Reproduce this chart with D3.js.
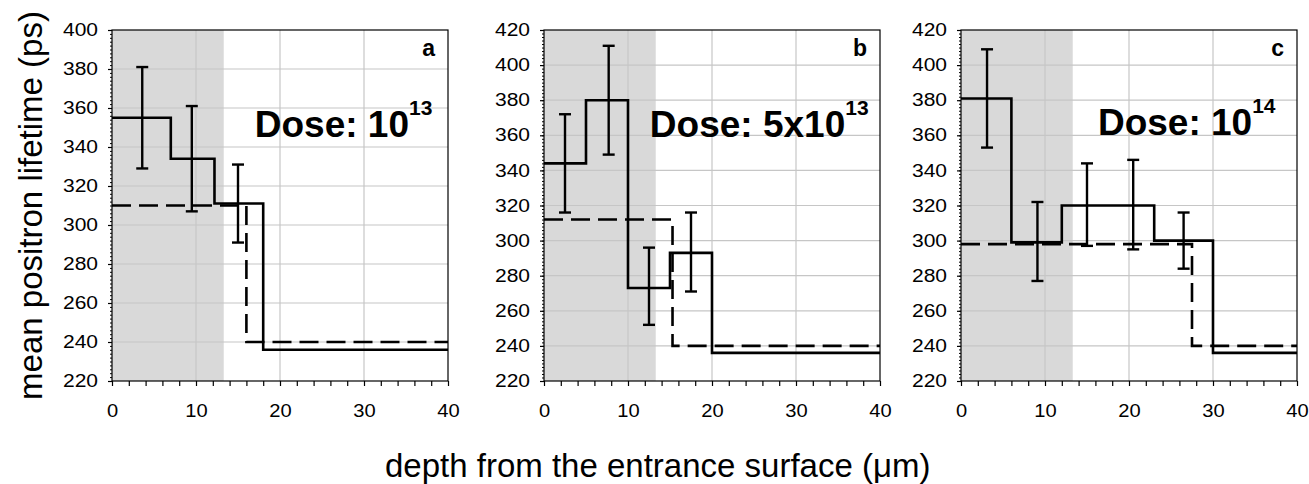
<!DOCTYPE html>
<html>
<head>
<meta charset="utf-8">
<script src="https://cdn.jsdelivr.net/npm/d3@7"></script>
<style>
  body { margin: 0; background: #fff; }
  text { font-family: "Liberation Sans", Arial, sans-serif; fill: #000; }
</style>
</head>
<body>
<div id="chart"></div>
<script>
// chart values
const panelLetters = ["a", "b", "c"];
const doseBase = ["10", "5x10", "10"];
const doseExp = ["13", "13", "14"];
const doseAt = [[17.0, 345], [12.6, 359], [16.3, 360]]; // [depth, lifetime] of label start
const yDomains = [[220, 400], [220, 420], [220, 420]];
const xTicks = [0, 10, 20, 30, 40];
const shadeEnd = 13.3; // shaded depth range (um)

// solid step profiles: layer edges and lifetimes
const solidEdges = [[0, 7, 12.2, 18, 40], [0, 5, 10, 15, 20, 40], [0, 6, 12, 23, 30, 40]];
const solidLevels = [[355, 334, 311, 236], [344, 380, 273, 293, 236], [381, 299, 320, 300, 236]];
// dashed step profiles
const dashEdges = [[0, 16, 40], [0, 15.3, 40], [0, 27.5, 40]];
const dashLevels = [[310, 240], [312, 240], [298, 240]];
// error bars
const errX = [[3.6, 9.5, 15], [2.5, 7.7, 12.5, 17.5], [3.1, 9.1, 15, 20.5, 26.5]];
const errLo = [[329, 307, 291], [316, 349, 252, 271], [353, 277, 297, 295, 284]];
const errHi = [[381, 361, 331], [372, 411, 296, 316], [409, 322, 344, 346, 316]];

const width = 1309, height = 484;
const panelLeft = [112, 544, 961];
const pw = 336, ph = 351, plotTop = 30;

const svg = d3.select("#chart").append("svg")
  .attr("width", width)
  .attr("height", height);

// stretch tick labels a little, like the original
function widen(sel, f) {
  sel.each(function() {
    const w = this.getComputedTextLength();
    if (w > 0) d3.select(this).attr("textLength", w * f).attr("lengthAdjust", "spacingAndGlyphs");
  });
}

panelLetters.forEach((letter, i) => {
  const g = svg.append("g").attr("transform", `translate(${panelLeft[i]},${plotTop})`);

  const x = d3.scaleLinear().domain([0, 40]).range([0, pw]);
  const y = d3.scaleLinear().domain(yDomains[i]).range([ph, 0]);
  const yMajor = d3.range(yDomains[i][0], yDomains[i][1] + 1, 20);

  // shaded region
  g.append("rect")
    .attr("x", x(0)).attr("y", 0)
    .attr("width", x(shadeEnd) - x(0)).attr("height", ph)
    .attr("fill", "#d9d9d9");

  // grid
  g.selectAll(".gx").data(xTicks.slice(1, -1)).enter().append("line")
    .attr("x1", d => x(d)).attr("x2", d => x(d))
    .attr("y1", 0).attr("y2", ph)
    .attr("stroke", "#c6c6c6").attr("stroke-width", 1.2);
  g.selectAll(".gy").data(yMajor.slice(1, -1)).enter().append("line")
    .attr("x1", 0).attr("x2", pw)
    .attr("y1", d => y(d)).attr("y2", d => y(d))
    .attr("stroke", "#c6c6c6").attr("stroke-width", 1.2);

  // axes
  const xAxis = g.append("g").attr("transform", `translate(0,${ph})`)
    .call(d3.axisBottom(x).tickValues(d3.range(0, 41, 2))
      .tickFormat(d => d % 10 === 0 ? d : "").tickSize(5).tickPadding(19));
  xAxis.select(".domain").remove();
  xAxis.selectAll("line").attr("stroke", "#000").attr("stroke-width", 1.2);
  xAxis.selectAll("text").attr("font-size", 17.5).attr("fill", "#000")
    .style("font-family", "Liberation Sans, Arial, sans-serif");
  widen(xAxis.selectAll("text"), 1.15);

  const yMinor = g.append("g")
    .call(d3.axisLeft(y).tickValues(d3.range(yDomains[i][0], yDomains[i][1] + 1, 2))
      .tickFormat("").tickSize(2));
  yMinor.select(".domain").remove();
  yMinor.selectAll("line").attr("stroke", "#000").attr("stroke-width", 1);

  const yAxis = g.append("g")
    .call(d3.axisLeft(y).tickValues(yMajor).tickSize(4).tickPadding(10));
  yAxis.select(".domain").remove();
  yAxis.selectAll("line").attr("stroke", "#000").attr("stroke-width", 1.2);
  yAxis.selectAll("text").attr("font-size", 17.5).attr("fill", "#000")
    .style("font-family", "Liberation Sans, Arial, sans-serif");
  widen(yAxis.selectAll("text"), 1.2);

  // frame
  g.append("rect")
    .attr("width", pw).attr("height", ph)
    .attr("fill", "none").attr("stroke", "#000").attr("stroke-width", 1.2);

  const step = d3.line().x(d => x(d[0])).y(d => y(d[1])).curve(d3.curveStepAfter);
  function stepPoints(edges, levels) {
    const pts = levels.map((v, k) => [edges[k], v]);
    pts.push([edges[edges.length - 1], levels[levels.length - 1]]);
    return pts;
  }

  // dashed profile
  g.append("path")
    .attr("d", step(stepPoints(dashEdges[i], dashLevels[i])))
    .attr("fill", "none").attr("stroke", "#000")
    .attr("stroke-width", 2.6).attr("stroke-dasharray", "19,8");

  // solid profile
  g.append("path")
    .attr("d", step(stepPoints(solidEdges[i], solidLevels[i])))
    .attr("fill", "none").attr("stroke", "#000").attr("stroke-width", 2.6);

  // error bars
  const bars = g.selectAll(".err").data(errX[i].map((v, k) => [v, errLo[i][k], errHi[i][k]]))
    .enter().append("g");
  bars.append("line")
    .attr("x1", d => x(d[0])).attr("x2", d => x(d[0]))
    .attr("y1", d => y(d[1])).attr("y2", d => y(d[2]))
    .attr("stroke", "#000").attr("stroke-width", 2.4);
  bars.append("line")
    .attr("x1", d => x(d[0]) - 6).attr("x2", d => x(d[0]) + 6)
    .attr("y1", d => y(d[1])).attr("y2", d => y(d[1]))
    .attr("stroke", "#000").attr("stroke-width", 2.4);
  bars.append("line")
    .attr("x1", d => x(d[0]) - 6).attr("x2", d => x(d[0]) + 6)
    .attr("y1", d => y(d[2])).attr("y2", d => y(d[2]))
    .attr("stroke", "#000").attr("stroke-width", 2.4);

  // panel letter
  g.append("text")
    .attr("x", pw - 13).attr("y", 26)
    .attr("text-anchor", "end")
    .attr("font-size", 23).attr("font-weight", "bold")
    .text(letter);

  // dose label
  const dose = g.append("text")
    .attr("x", x(doseAt[i][0])).attr("y", y(doseAt[i][1]))
    .attr("font-size", 37).attr("font-weight", "bold");
  dose.append("tspan").text("Dose: " + doseBase[i]);
  dose.append("tspan").attr("font-size", 21).attr("dy", -22).text(doseExp[i]);
});

// axis titles
svg.append("text")
  .attr("transform", `translate(42,${plotTop + ph / 2}) rotate(-90)`)
  .attr("text-anchor", "middle")
  .attr("font-size", 33)
  .text("mean positron lifetime (ps)");

svg.append("text")
  .attr("x", 385).attr("y", 477)
  .attr("font-size", 33)
  .text("depth from the entrance surface (\u03bcm)");
</script>
</body>
</html>
